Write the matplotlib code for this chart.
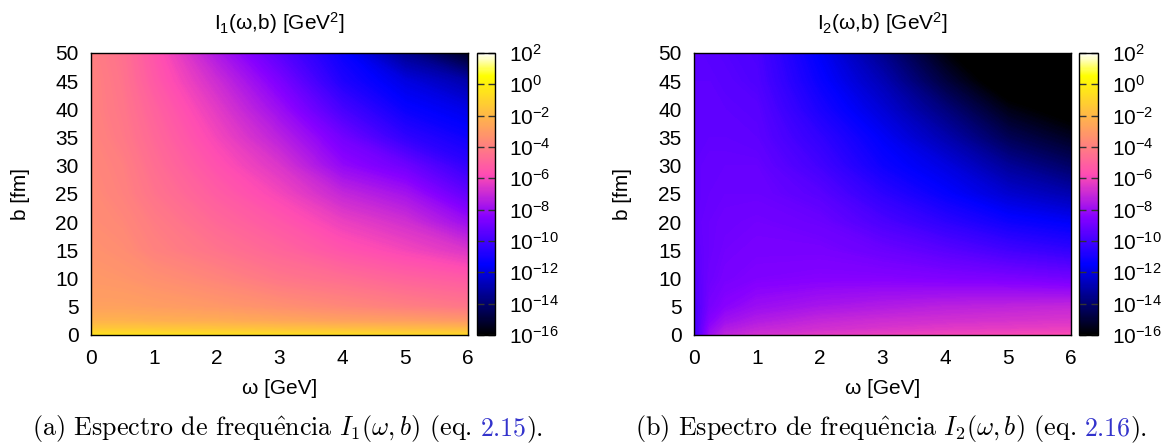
import numpy as np
import matplotlib
matplotlib.use("Agg")
import matplotlib.pyplot as plt
from matplotlib import cm, colors, ticker

omega_1 = [0, 0.5, 1, 2, 3, 4, 5, 6]
omega_2 = [0, 0.25, 0.5, 1, 2, 3, 4, 5, 6]
b_fm = [0, 1, 2.5, 5, 10, 15, 20, 25, 30, 35, 40, 45, 50]

# log10 of I1(omega, b) [GeV^2], one row per b value
log_I1 = [
    [-0.5, -0.5, -0.5, -0.6, -0.6, -0.7, -0.8, -0.9],
    [-1.4, -1.4, -1.4, -1.5, -1.6, -1.7, -1.8, -1.9],
    [-2.2, -2.2, -2.3, -2.4, -2.6, -2.8, -2.9, -3.1],
    [-2.8, -2.8, -2.9, -3.1, -3.4, -3.7, -4.0, -4.3],
    [-3.1, -3.2, -3.4, -3.8, -4.3, -4.6, -5.0, -5.3],
    [-3.3, -3.5, -3.9, -4.4, -4.9, -5.5, -6.0, -6.6],
    [-3.5, -3.7, -4.1, -4.8, -5.4, -6.2, -6.8, -8.0],
    [-3.6, -3.9, -4.4, -5.2, -6.0, -7.1, -7.8, -9.3],
    [-3.7, -4.0, -4.6, -5.6, -6.6, -8.2, -9.0, -10.4],
    [-3.8, -4.2, -4.8, -6.0, -7.3, -8.9, -10.4, -11.2],
    [-3.9, -4.3, -5.0, -6.4, -8.0, -9.9, -11.3, -11.9],
    [-3.9, -4.4, -5.3, -6.9, -8.7, -10.8, -12.0, -13.0],
    [-4.0, -4.5, -5.5, -7.6, -9.5, -11.3, -13.5, -15.4],
]

# log10 of I2(omega, b) [GeV^2]
log_I2 = [
    [-10.2, -8.0, -7.2, -6.8, -6.4, -6.2, -6.0, -5.9, -5.8],
    [-10.1, -8.2, -7.5, -7.1, -6.8, -6.6, -6.4, -6.3, -6.2],
    [-10.0, -8.5, -7.9, -7.5, -7.1, -6.9, -6.8, -6.7, -6.6],
    [-9.9, -8.8, -8.4, -8.0, -7.7, -7.5, -7.3, -7.2, -7.1],
    [-9.6, -9.0, -8.8, -8.6, -8.5, -8.5, -8.6, -8.7, -8.9],
    [-9.4, -9.1, -8.9, -8.8, -8.8, -9.1, -9.5, -10.0, -10.4],
    [-9.3, -9.1, -9.0, -8.9, -9.1, -9.8, -10.5, -11.2, -11.6],
    [-9.3, -9.2, -9.1, -9.1, -9.5, -10.5, -11.4, -12.3, -12.9],
    [-9.3, -9.2, -9.2, -9.2, -10.0, -11.2, -12.0, -13.3, -14.2],
    [-9.3, -9.3, -9.3, -9.4, -10.4, -11.6, -12.9, -14.5, -15.4],
    [-9.3, -9.3, -9.4, -9.5, -10.9, -12.2, -13.8, -15.6, -16.5],
    [-9.4, -9.4, -9.5, -9.7, -11.3, -12.8, -14.9, -16.8, -17.6],
    [-9.4, -9.5, -9.6, -9.8, -11.6, -13.5, -15.8, -17.8, -18.7],
]

cbar_exponents = [-16, -14, -12, -10, -8, -6, -4, -2, 0, 2]
x_ticks = [0, 1, 2, 3, 4, 5, 6]
y_ticks = [0, 5, 10, 15, 20, 25, 30, 35, 40, 45, 50]
titles = ["I$_1$(ω,b) [GeV$^2$]", "I$_2$(ω,b) [GeV$^2$]"]
cap_labels = ["(a)", "(b)"]
cap_symbols = ["I_1", "I_2"]
cap_eqs = ["2.15", "2.16"]

plt.rcParams["font.family"] = ["Liberation Sans", "DejaVu Sans"]
plt.rcParams["font.size"] = 15
plt.rcParams["mathtext.fontset"] = "custom"
plt.rcParams["mathtext.rm"] = "Liberation Sans"
plt.rcParams["mathtext.it"] = "Liberation Sans:italic"
plt.rcParams["mathtext.bf"] = "Liberation Sans:bold"

W, H = 1173, 446
fig = plt.figure(figsize=(W / 100, H / 100), dpi=100)

levels = np.arange(-20, 2.05, 0.05)

# pixel boxes of the two panels: (axes left, axes right, colorbar left, colorbar right)
panels = [(91, 468, 477, 495), (694, 1071, 1079, 1098)]
ax_top, ax_bot = 53, 335
cap_x = [32, 635]
cap_size = 18.7


def fx(px):
    return px / W


def fy(py):
    return 1 - py / H


def exp_label(v, pos):
    return r"$10^{%d}$" % round(v)


for i, (om, data) in enumerate([(omega_1, log_I1), (omega_2, log_I2)]):
    left, right, cl, cr = panels[i]
    norm = colors.Normalize(vmin=-16, vmax=2)
    ax = fig.add_axes([fx(left), fy(ax_bot), fx(right - left), (ax_bot - ax_top) / H])
    ax.contourf(om, b_fm, np.array(data), levels=levels, cmap="gnuplot2",
                norm=norm, antialiased=False)
    ax.set_xlim(0, 6)
    ax.set_ylim(0, 50)
    ax.set_xticks(x_ticks)
    ax.set_yticks(y_ticks)
    ax.tick_params(length=0)
    ax.tick_params(axis="x", pad=10)
    ax.tick_params(axis="y", pad=9)
    for sp in ax.spines.values():
        sp.set_linewidth(1.0)

    cax = fig.add_axes([fx(cl), fy(ax_bot), fx(cr - cl), (ax_bot - ax_top) / H])
    sm = cm.ScalarMappable(norm=colors.Normalize(vmin=-16, vmax=2), cmap="gnuplot2")
    cb = fig.colorbar(sm, cax=cax, ticks=cbar_exponents)
    cb.formatter = ticker.FuncFormatter(exp_label)
    cb.update_ticks()
    cb.outline.set_linewidth(1.0)
    cax.tick_params(axis="y", direction="in", left=True, right=True, length=5,
                    width=1, color="#333333", pad=10)
    cax.minorticks_off()

    mid = fx((left + right) / 2)
    fig.text(mid, fy(23), titles[i], ha="center", va="center")
    fig.text(mid, fy(388), "ω [GeV]", ha="center", va="center")
    fig.text(fx(left - 71), fy(194), "b [fm]", rotation=90, ha="center", va="center")

# captions under each panel, the equation number in link blue
renderer = fig.canvas.get_renderer()
space = 0.33 * cap_size * 100 / 72 / W
for i in range(2):
    s1 = r"%s Espectro de frequ$\hat{\mathrm{e}}$ncia $%s(\omega, b)$ (eq." % (cap_labels[i], cap_symbols[i])
    x = fx(cap_x[i])
    y = fy(435)
    pieces = [(s1, "black", space), (cap_eqs[i], "#3333cc", 0), (").", "black", 0)]
    for s, c, gap in pieces:
        t = fig.text(x, y, s, ha="left", va="baseline", color=c, fontsize=cap_size,
                     family="cmr10", math_fontfamily="cm")
        ext = t.get_window_extent(renderer)
        x = ext.x1 / W + gap

fig.savefig("out.png", dpi=100)
